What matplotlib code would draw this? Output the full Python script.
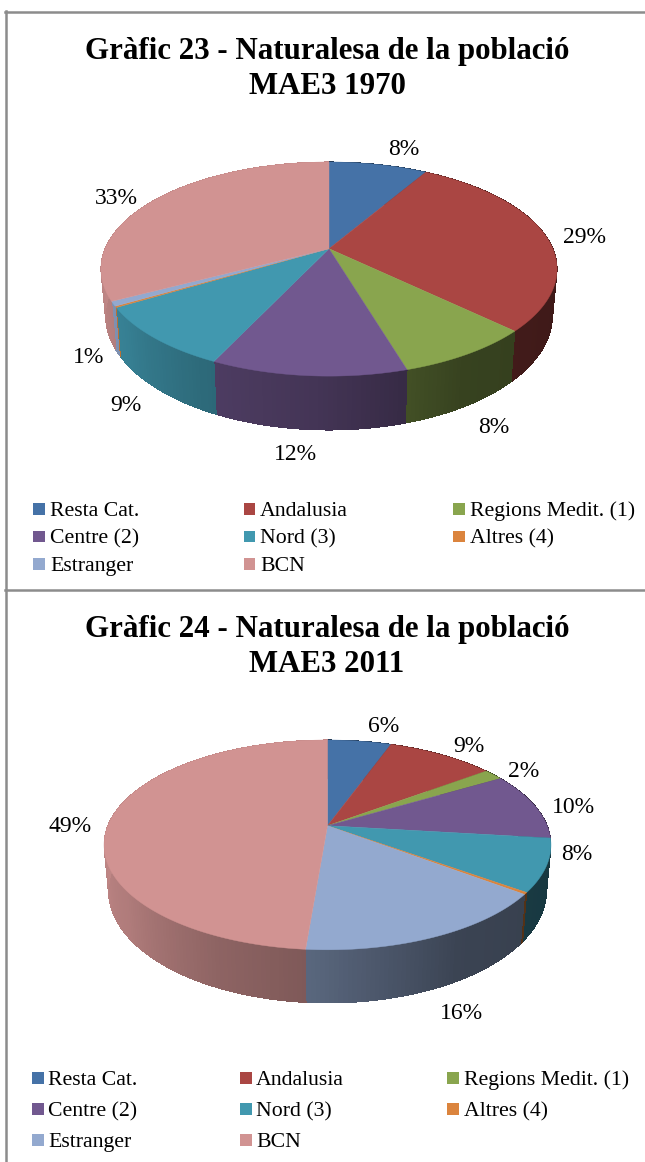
import numpy as np
import matplotlib
matplotlib.use("Agg")
import matplotlib.pyplot as plt
from matplotlib.colors import to_rgb
from matplotlib.patches import Polygon, Rectangle

categories = ["Resta Cat.", "Andalusia", "Regions Medit. (1)", "Centre (2)",
              "Nord (3)", "Altres (4)", "Estranger", "BCN"]
colors = ["#4572A7", "#AA4643", "#89A54E", "#71588F",
          "#4198AF", "#DB843D", "#93A9CF", "#D19392"]

values_1970 = [8.4, 28.8, 8.2, 11.6, 9.4, 0.2, 0.7, 32.7]
values_2011 = [5.5, 9.3, 1.7, 10.4, 8.1, 0.3, 16.0, 48.7]

title_1970 = "Gràfic 23 - Naturalesa de la població"
title_2011 = "Gràfic 24 - Naturalesa de la població"

# where the data labels sit (pixels), None = no label
labels_pos_1970 = [(404, 147), (585, 235), (494, 425), (295, 452), (126, 403),
                   None, (89, 355), (116, 196)]
labels_pos_2011 = [(384, 724), (469, 744), (524, 769), (573, 805), (577, 852),
                   None, (461, 1011), (70, 824)]

# side wall brightness against angle (clockwise from the top)
shade_angles = [0, 90, 125, 150, 183, 205, 235, 270, 360]
shade_levels = [0.4, 0.36, 0.38, 0.4, 0.6, 0.68, 0.84, 0.92, 0.92]

plt.rcParams["font.family"] = ["Liberation Serif", "DejaVu Serif"]

fig = plt.figure(figsize=(6.45, 11.62), dpi=100)
ax = fig.add_axes([0, 0, 1, 1])
ax.set_xlim(0, 645)
ax.set_ylim(1162, 0)
ax.axis("off")


def rim(theta, cx, cy, a, c, k):
    # perspective view of a circle, theta in degrees clockwise from the top
    t = np.radians(theta)
    u = np.sin(t)
    v = np.cos(t)
    w = 1 + k * v
    return cx + a * u / w, cy - c * v / w


def draw_pie(values, cx, cy, a, c, k, depth):
    total = sum(values)
    edges = np.concatenate([[0], np.cumsum(values)]) / total * 360

    # walls first, the top covers the back part of them
    for i in range(len(values)):
        rgb = np.array(to_rgb(colors[i]))
        steps = max(int(edges[i + 1] - edges[i]) + 1, 1)
        th = np.linspace(edges[i], edges[i + 1], steps + 1)
        x, y = rim(th, cx, cy, a, c, k)
        x2 = cx + 0.98 * (x - cx)
        y2 = y + depth + 0.07 * (y - cy)
        # solid wall gives the smooth outline, the strips give the gradient
        base = rgb * np.interp(th.mean(), shade_angles, shade_levels)
        outline = list(zip(x, y)) + list(zip(x2[::-1], y2[::-1]))
        ax.add_patch(Polygon(outline, closed=True, fc=base, ec="none", zorder=2))
        for j in range(steps):
            mid = (th[j] + th[j + 1]) / 2
            col = rgb * np.interp(mid, shade_angles, shade_levels)
            pts = [(x[j], y[j]), (x[j + 1], y[j + 1]), (x2[j + 1], y2[j + 1]), (x2[j], y2[j])]
            ax.add_patch(Polygon(pts, closed=True, fc=col, ec="none", lw=0,
                                 antialiased=False, zorder=2.5))

    for i in range(len(values)):
        th = np.linspace(edges[i], edges[i + 1], max(int(edges[i + 1] - edges[i]) * 2, 2) + 1)
        x, y = rim(th, cx, cy, a, c, k)
        pts = [(cx, cy)] + list(zip(x, y))
        ax.add_patch(Polygon(pts, closed=True, fc=colors[i], ec=colors[i], lw=0.3, zorder=3))


def draw_labels(values, positions):
    for v, pos in zip(values, positions):
        if pos is not None:
            ax.text(pos[0], pos[1] + 8, "%d%%" % round(v), ha="center", va="baseline",
                    fontsize=17, color="black", zorder=5)


def draw_legend(xs_box, xs_text, ys, box_w, box_h):
    for i, name in enumerate(categories):
        col = i % 3
        row = i // 3
        ax.add_patch(Rectangle((xs_box[col], ys[row] - box_h / 2), box_w, box_h,
                               fc=colors[i], ec="none", zorder=3))
        ax.text(xs_text[col], ys[row] + 7, name, ha="left", va="baseline",
                fontsize=15.7, color="black", zorder=5)


# frame
frame = "#8c8c8c"
ax.plot([5, 645], [11.5, 11.5], color=frame, lw=1.8, zorder=1)
ax.plot([5, 645], [589.5, 589.5], color=frame, lw=1.8, zorder=1)
ax.plot([6, 6], [11, 1162], color=frame, lw=1.8, zorder=1)

# Grafic 23
ax.text(327, 59.3, title_1970, ha="center", va="baseline", fontsize=22.2, fontweight="bold")
ax.text(327, 93.8, "MAE3 1970", ha="center", va="baseline", fontsize=22.2, fontweight="bold")
draw_pie(values_1970, 329, 248.7, 223.9, 103.2, 0.19, 45)
draw_labels(values_1970, labels_pos_1970)
draw_legend([33, 243.5, 453], [50, 260, 470], [509, 536.5, 564], 11.5, 11.5)

# Grafic 24
ax.text(327, 636.8, title_2011, ha="center", va="baseline", fontsize=22.2, fontweight="bold")
ax.text(327, 671.7, "MAE3 2011", ha="center", va="baseline", fontsize=22.2, fontweight="bold")
draw_pie(values_2011, 327.5, 825.7, 219.7, 101.4, 0.183, 44.5)
draw_labels(values_2011, labels_pos_2011)
draw_legend([32, 240, 447], [48.5, 256, 464], [1078, 1109, 1140], 12, 12)

fig.savefig("out.png", dpi=100)
